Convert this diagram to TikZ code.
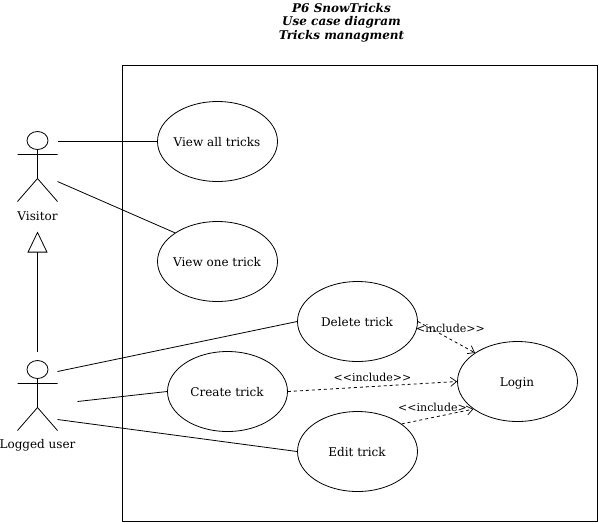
\documentclass[tikz,border=0pt]{standalone}
\usepackage{fontspec}
\setmainfont{DejaVu Serif}
\usetikzlibrary{shapes.geometric,arrows.meta}
\newcommand{\uctext}[1]{\makebox[0pt][c]{\hspace*{-1pt}\raisebox{-4.6pt}[0pt][0pt]{#1}}}
\tikzset{
  usecase/.style={draw,ellipse,minimum width=120pt,minimum height=80pt,inner sep=0pt,font=\fontsize{12}{14}\selectfont},
  actorlabel/.style={inner sep=0pt,font=\fontsize{12}{14}\selectfont},
  inclabel/.style={inner sep=0pt,font=\fontsize{11}{13}\selectfont},
  titlelabel/.style={inner sep=0pt,font=\fontsize{12}{13.5}\selectfont\bfseries\itshape,align=center},
  head/.style={draw,ellipse,minimum width=21pt,minimum height=18pt,inner sep=0pt},
  assoc/.style={draw,line width=0.8pt},
  incl/.style={draw,line width=0.8pt,dash pattern=on 3pt off 3pt,-{Straight Barb[length=6pt,width=9pt,line width=0.7pt]}},
  genarrow/.style={draw,line width=0.8pt,-{Triangle[open,length=21pt,width=20pt,fill=white,line width=0.8pt]}},
}
\begin{document}
\begin{tikzpicture}[x=1pt,y=-1pt,line width=0.8pt]
\useasboundingbox (0,0) rectangle (599,523);
\node[titlelabel] (title) at (341.5,22.5) {P6 SnowTricks\\Use case diagram\\Tricks managment};
\node[draw,rectangle,minimum width=475pt,minimum height=456pt,inner sep=0pt] (system) at (360,293.5) {};
\node[usecase] (all) at (217.5,141.5) {\uctext{View all tricks}};
\node[usecase] (one) at (217.5,261.5) {\uctext{View one trick}};
\node[usecase] (del) at (357.5,321.5) {\uctext{Delete trick}};
\node[usecase] (cre) at (227.5,391.5) {\uctext{Create trick}};
\node[usecase] (edi) at (357.5,451.5) {\uctext{Edit trick}};
\node[usecase] (log) at (517.5,381.5) {\uctext{Login}};
% Visitor actor
\node[head] (vh) at (37.5,140.5) {};
\coordinate (vb) at (37.5,178.5);
\coordinate (vla) at (17.5,154.5);
\coordinate (vra) at (57.5,154.5);
\coordinate (vlf) at (17.5,201.5);
\coordinate (vrf) at (57.5,201.5);
\draw (vh.south) -- (vb) (vla) -- (vra) (vlf) -- (vb) -- (vrf);
\node[actorlabel] (vl) at (37.5,216) {Visitor};
% Logged user actor
\node[head] (uh) at (37.5,369.5) {};
\coordinate (ub) at (37.5,407.5);
\coordinate (ula) at (17.5,383.5);
\coordinate (ura) at (57.5,383.5);
\coordinate (ulf) at (17.5,430.5);
\coordinate (urf) at (57.5,430.5);
\draw (uh.south) -- (ub) (ula) -- (ura) (ulf) -- (ub) -- (urf);
\node[actorlabel] (ul) at (37.5,445) {Logged user};
% free ends
\coordinate (v1) at (57.5,141.5);
\coordinate (v2) at (57.5,181.5);
\coordinate (u1) at (57.5,371.5);
\coordinate (u2) at (77.5,401.5);
\coordinate (u3) at (57.5,419.5);
\coordinate (gs) at (37.5,351.5);
\coordinate (ge) at (37.5,231.5);
\path[assoc] (v1) -- (all.west);
\path[assoc] (v2) -- (one.146.3);
\path[assoc] (u1) -- (del.west);
\path[assoc] (u2) -- (cre.west);
\path[assoc] (u3) -- (edi.west);
\path[genarrow] (gs) -- (ge);
\path[incl] (del.east) -- (log.146);
\path[incl] (cre.east) -- (log.west);
\path[incl] (edi.32) -- (log.212);
\node[inclabel] (i1) at (450.5,328) {<include>{}>};
\node[inclabel] (i2) at (372.5,377) {<{}<include>{}>};
\node[inclabel] (i3) at (432.5,407) {<{}<include>};
\end{tikzpicture}
\end{document}
